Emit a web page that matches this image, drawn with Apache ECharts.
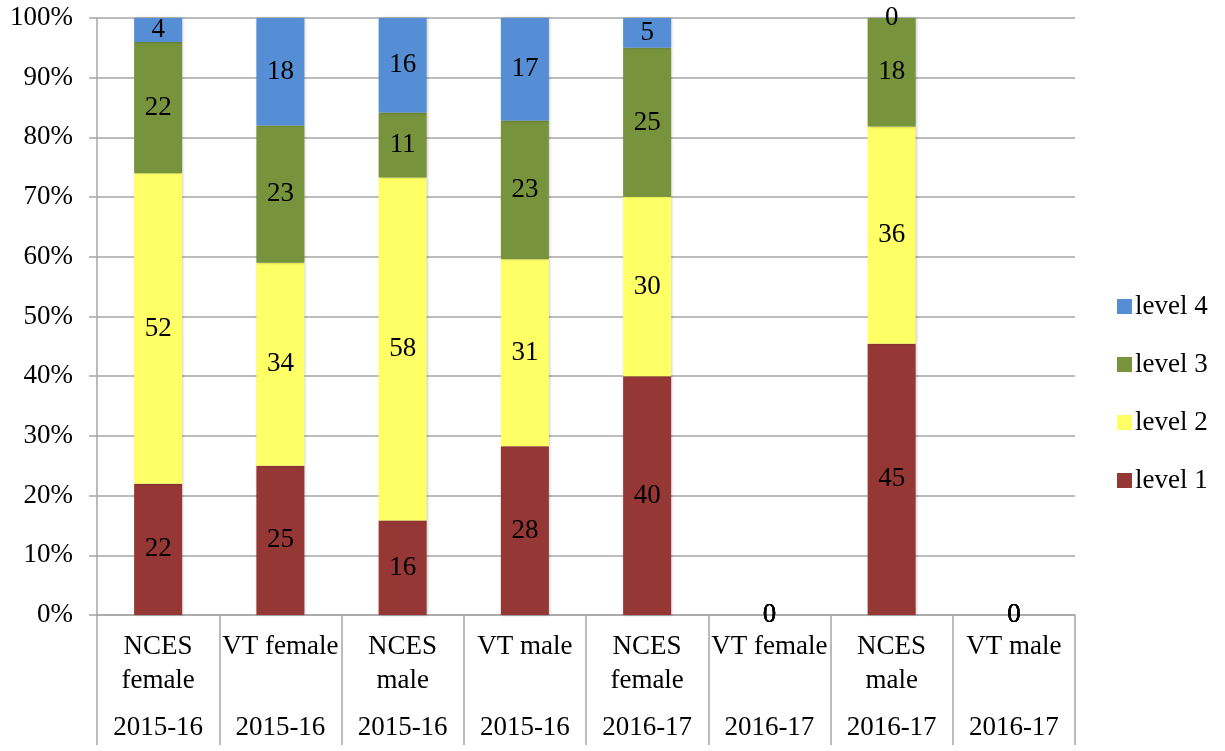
<!DOCTYPE html>
<html>
<head>
<meta charset="utf-8">
<script src="https://cdn.jsdelivr.net/npm/echarts@6/dist/echarts.min.js"></script>
<style>
  html, body { margin: 0; padding: 0; background: #fff; }
  #main { width: 1225px; height: 751px; }
</style>
</head>
<body>
<div id="main"></div>
<script>
// categories (group + year)
var groups = ["NCES\nfemale", "VT female", "NCES\nmale", "VT male", "NCES\nfemale", "VT female", "NCES\nmale", "VT male"];
var years = ["2015-16", "2015-16", "2015-16", "2015-16", "2016-17", "2016-17", "2016-17", "2016-17"];

// raw counts per level
var level1 = [22, 25, 16, 28, 40, 0, 45, 0];
var level2 = [52, 34, 58, 31, 30, 0, 36, 0];
var level3 = [22, 23, 11, 23, 25, 0, 18, 0];
var level4 = [4, 18, 16, 17, 5, 0, 0, 0];

var levelNames = ["level 1", "level 2", "level 3", "level 4"];
var colors = ["#953735", "#ffff66", "#77933c", "#558ed5"];

var font = "Liberation Serif";
var fs = 27;
var gridColor = "#a6a6a6";

// 100% stacked: share of each column total
var totals = level1.map(function(v, i) {
  return v + level2[i] + level3[i] + level4[i];
});

function pct(arr) {
  return arr.map(function(v, i) {
    return {
      value: totals[i] ? v / totals[i] * 100 : 0,
      raw: v
    };
  });
}

var series = [level1, level2, level3, level4].map(function(arr, k) {
  return {
    name: levelNames[k],
    type: "bar",
    stack: "all",
    barWidth: 48,
    itemStyle: {
      color: colors[k],
      shadowBlur: 3,
      shadowColor: "rgba(0,0,0,0.25)",
      shadowOffsetX: 1
    },
    label: {
      show: true,
      position: "inside",
      color: "#000",
      fontFamily: font,
      fontSize: fs,
      formatter: function(p) {
        return p.data.raw;
      }
    },
    data: pct(arr)
  };
});

var myChart = echarts.init(document.getElementById("main"));

var option = {
  backgroundColor: "#fff",
  animation: false,
  textStyle: { fontFamily: font },
  grid: {
    left: 97,
    right: 150,
    top: 18,
    bottom: 136
  },
  legend: {
    orient: "vertical",
    left: 1112,
    top: 288,
    itemWidth: 15,
    itemHeight: 15,
    itemGap: 31,
    icon: "rect",
    data: ["level 4", "level 3", "level 2", "level 1"],
    textStyle: {
      fontFamily: font,
      fontSize: fs,
      color: "#000",
      padding: [0, 0, 0, -2]
    }
  },
  xAxis: [
    {
      type: "category",
      data: groups,
      position: "bottom",
      axisLine: { lineStyle: { color: gridColor, width: 1.5 } },
      axisTick: { show: true, length: 130, lineStyle: { color: gridColor, width: 1.5 } },
      axisLabel: {
        interval: 0,
        margin: 15,
        verticalAlign: "top",
        lineHeight: 34,
        fontFamily: font,
        fontSize: fs,
        color: "#000"
      }
    },
    {
      type: "category",
      data: years,
      position: "bottom",
      axisLine: { show: false },
      axisTick: { show: false },
      axisLabel: {
        interval: 0,
        margin: 113,
        verticalAlign: "middle",
        fontFamily: font,
        fontSize: fs,
        color: "#000"
      }
    }
  ],
  yAxis: {
    type: "value",
    min: 0,
    max: 100,
    interval: 10,
    axisLine: { show: true, lineStyle: { color: gridColor, width: 1.5 } },
    axisTick: { show: true, length: 8, lineStyle: { color: gridColor, width: 1.5 } },
    splitLine: { lineStyle: { color: gridColor, width: 1.5 } },
    axisLabel: {
      margin: 24,
      fontFamily: font,
      fontSize: fs,
      color: "#000",
      formatter: "{value}%"
    }
  },
  series: series
};

myChart.setOption(option);
</script>
</body>
</html>
